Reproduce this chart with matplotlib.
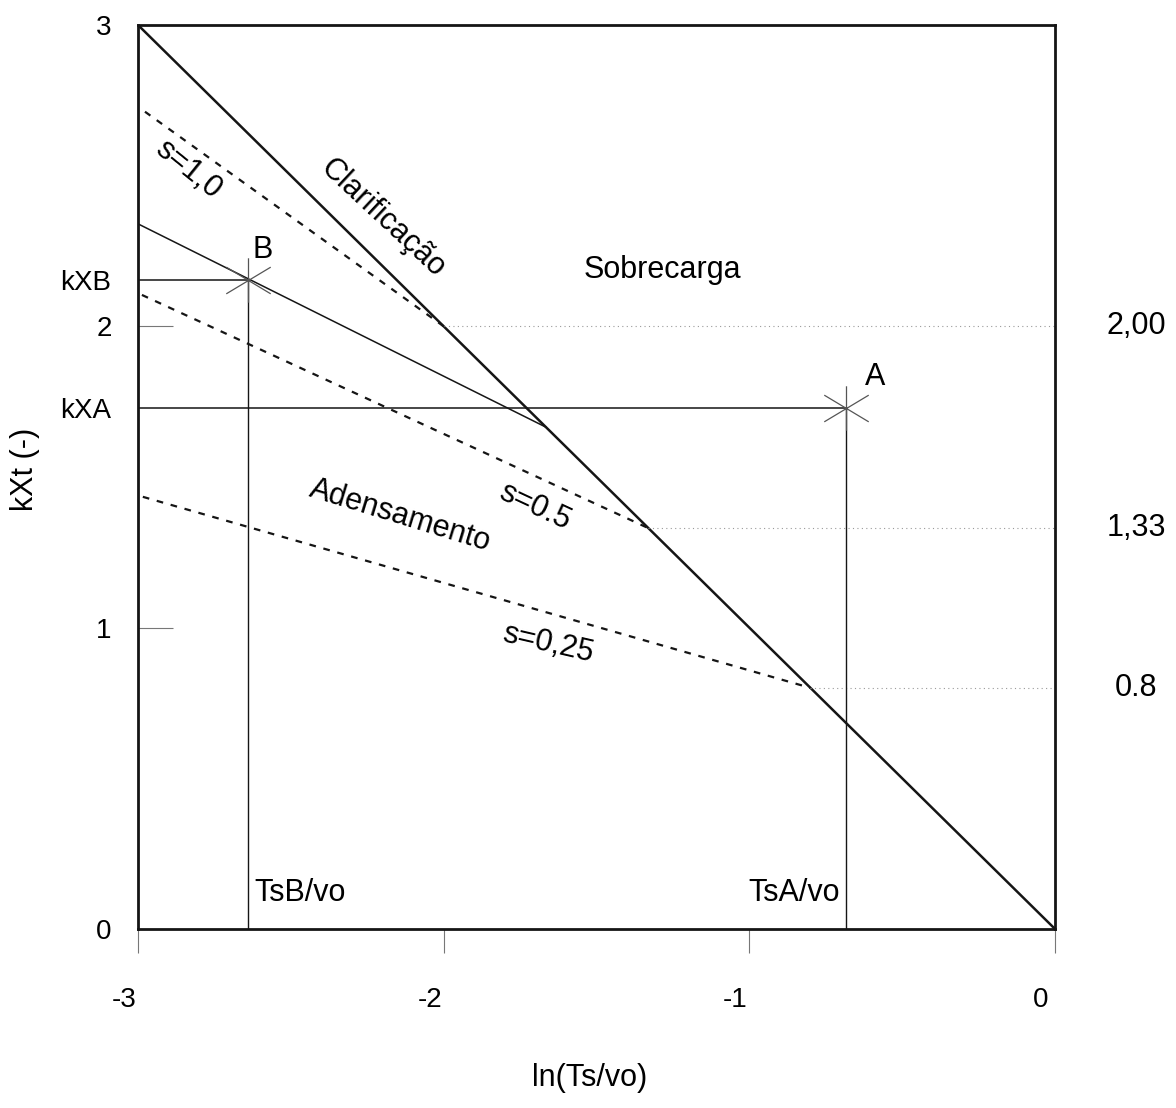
import matplotlib
matplotlib.use("Agg")
import matplotlib.pyplot as plt
from matplotlib.path import Path
from matplotlib.transforms import ScaledTranslation

plt.rcParams["font.family"] = ["Liberation Sans", "DejaVu Sans"]

# clarification limit, kXt = -ln(Ts/vo)
clar_x = [-3.0, -2.0, -1.33, -0.8, 0.0]
clar_y = [3.0, 2.0, 1.33, 0.8, 0.0]

# operating line through B
op_x = [-3.0, -1.665]
op_y = [2.34, 1.665]

# thickening lines for each s, from the left edge to the tangent level
s_labels = ["s=1,0", "s=0.5", "s=0,25"]
s_start_x = [-2.977, -2.987, -2.984]
s_start_y = [2.712, 2.104, 1.434]
levels = [2.00, 1.33, 0.8]
level_labels = ["2,00", "1,33", "0.8"]

# state points
a_x, a_y = -0.684, 1.73
b_x, b_y = -2.64, 2.153

x_ticks = [-3, -2, -1, 0]
x_tick_labels = ["-3", "-2", "-1", "0"]
y_major = [1, 2]
y_minor = [0, a_y, b_y, 3]
y_minor_labels = ["0", "kXA", "kXB", "3"]

ink = "#151515"

fig = plt.figure(figsize=(11.76, 11.08), dpi=100)
ax = fig.add_axes([0.1173, 0.1616, 0.7798, 0.8159])
ax.set_xlim(-3, 0)
ax.set_ylim(0, 3)

# main boundary
ax.plot(clar_x, clar_y, color=ink, lw=1.8, solid_capstyle="butt")
ax.plot(op_x, op_y, color=ink, lw=1.1)

# s lines, dashed, ending on the boundary
for sx, sy, lev in zip(s_start_x, s_start_y, levels):
    ax.plot([sx, -lev], [sy, lev], color=ink, lw=1.6, dashes=(3, 3.5))
    ax.plot([-lev, 0], [lev, lev], color="#9a9a9a", lw=0.8,
            linestyle=(0, (1, 3)))

# guide lines to A and B
ax.plot([-3, a_x], [a_y, a_y], color=ink, lw=1.1)
ax.plot([a_x, a_x], [0, a_y], color=ink, lw=1.0)
ax.plot([-3, b_x], [b_y, b_y], color=ink, lw=1.1)
ax.plot([b_x, b_x], [0, b_y], color=ink, lw=1.0)

star = Path([(-1, -0.6), (1, 0.6), (-1, 0.6), (1, -0.6), (0, -1), (0, 1)],
            [Path.MOVETO, Path.LINETO, Path.MOVETO, Path.LINETO,
             Path.MOVETO, Path.LINETO])
ax.plot([a_x, b_x], [a_y, b_y], linestyle="none", marker=star,
        markersize=32, markeredgewidth=0.9, markeredgecolor="#555555",
        markerfacecolor="none")

# region and curve labels
fs = 22
ax.text(-2.199, 2.36, "Clarificação", fontsize=fs, rotation=-43,
        rotation_mode="anchor", ha="center", va="center")
ax.text(-1.283, 2.187, "Sobrecarga", fontsize=fs, ha="center", va="center")
ax.text(-2.143, 1.37, "Adensamento", fontsize=fs, rotation=-17,
        rotation_mode="anchor", ha="center", va="center")
s_pos = [(-2.836, 2.52, -39), (-1.701, 1.40, -25), (-1.659, 0.945, -13)]
for lab, (tx, ty, rot) in zip(s_labels, s_pos):
    ax.text(tx, ty, lab, fontsize=fs, rotation=rot, rotation_mode="anchor",
            ha="center", va="center")
ax.text(-2.591, 2.254, "B", fontsize=fs, ha="center", va="center")
ax.text(-0.589, 1.832, "A", fontsize=fs, ha="center", va="center")
ax.text(b_x + 0.02, 0.12, "TsB/vo", fontsize=fs, ha="left", va="center")
ax.text(a_x - 0.02, 0.12, "TsA/vo", fontsize=fs, ha="right", va="center")

for lev, lab in zip(levels, level_labels):
    ax.text(0.265, lev, lab, fontsize=fs, ha="center", va="center",
            clip_on=False)

# axes
for sp in ax.spines.values():
    sp.set_linewidth(2.0)
    sp.set_color(ink)

ax.set_xticks(x_ticks, x_tick_labels)
ax.tick_params(axis="x", direction="out", length=17, width=0.8,
               color="#777777", pad=25, labelsize=20)
shift = ScaledTranslation(-0.14, 0, fig.dpi_scale_trans)
for lab in ax.get_xticklabels():
    lab.set_transform(lab.get_transform() + shift)

ax.set_yticks(y_major, ["1", "2"])
ax.set_yticks(y_minor, y_minor_labels, minor=True)
ax.tick_params(axis="y", which="major", direction="in", length=25,
               width=0.8, color="#777777", pad=19, labelsize=20)
ax.tick_params(axis="y", which="minor", length=0, pad=19, labelsize=20)

ax.text(-0.123, 0.508, "kXt (-)", transform=ax.transAxes, rotation=90,
        fontsize=fs, ha="center", va="center")
ax.text(0.493, -0.165, "ln(Ts/vo)", transform=ax.transAxes,
        fontsize=fs, ha="center", va="center")

fig.savefig("out.png", dpi=100)
